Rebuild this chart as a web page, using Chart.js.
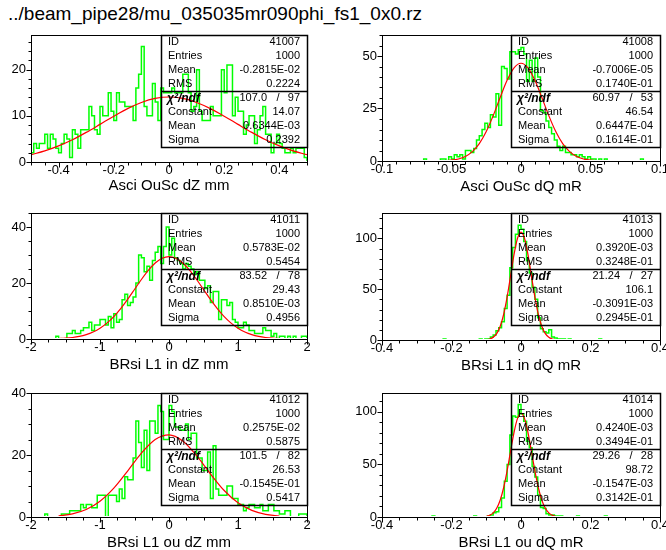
<!DOCTYPE html>
<html>
<head>
<meta charset="utf-8">
<title>beam_pipe28 residuals</title>
<script src="https://cdn.jsdelivr.net/npm/chart.js@4.4.1/dist/chart.umd.min.js"></script>
<style>
  html, body { margin: 0; padding: 0; background: #fff; }
  body { position: relative; width: 666px; height: 550px; overflow: hidden; }
  #pageTitle { position: absolute; left: 8px; top: 4px; font: 19px "Liberation Sans", Arial, sans-serif; line-height: 19px; color: #000; white-space: nowrap; }
  canvas { position: absolute; }
</style>
</head>
<body>
<div id="pageTitle"></div>
<script>
/* ============================
   PAW STYLE HISTOGRAM PAGE
============================ */

// ---------- DATA ----------
const pageTitle = "../beam_pipe28/mu_035035mr090phi_fs1_0x0.rz";

const histIds  = ["41007", "41008", "41011", "41013", "41012", "41014"];
const xTitles  = ["Asci OuSc dZ mm", "Asci OuSc dQ mR", "BRsi L1 in dZ mm", "BRsi L1 in dQ mR", "BRsi L1 ou dZ mm", "BRsi L1 ou dQ mR"];
const xRanges  = [[-0.5, 0.5], [-0.1, 0.1], [-2, 2], [-0.4, 0.4], [-2, 2], [-0.4, 0.4]];
const yMaxes   = [27.5, 60, 45, 125, 40, 118];
const xMajor   = [0.2, 0.05, 1, 0.2, 1, 0.2];
const xMinor   = [0.05, 0.01, 0.25, 0.05, 0.25, 0.05];
const yMajor   = [10, 25, 20, 50, 20, 50];
const yMinor   = [2, 5, 5, 10, 5, 10];

// stats box text
const statEntries = ["1000", "1000", "1000", "1000", "1000", "1000"];
const statMean    = ["-0.2815E-02", "-0.7006E-05", "0.5783E-02", "0.3920E-03", "0.2575E-02", "0.4240E-03"];
const statRms     = ["0.2224", "0.1740E-01", "0.5454", "0.3248E-01", "0.5875", "0.3494E-01"];
const chi2Vals    = ["107.0", "60.97", "83.52", "21.24", "101.5", "29.26"];
const ndfVals     = ["97", "53", "78", "27", "82", "28"];
const fitConst    = ["14.07", "46.54", "29.43", "106.1", "26.53", "98.72"];
const fitMean     = ["0.6344E-03", "0.6447E-04", "0.8510E-03", "-0.3091E-03", "-0.1545E-01", "-0.1547E-03"];
const fitSigma    = ["0.2392", "0.1614E-01", "0.4956", "0.2945E-01", "0.5417", "0.3142E-01"];

// bin contents, 100 bins each
const counts41007 = [
  2,4,3,4,4,6,3,6,5,3,  2,4,6,5,1,7,6,3,7,7,  7,12,10,7,6,12,10,10,15,11,
  9,15,13,13,12,12,12,9,16,19,  25,12,10,10,17,13,9,16,15,15,
  15,16,15,15,15,19,19,15,11,12,  20,11,9,9,9,12,10,10,10,20,
  15,21,21,10,14,11,11,6,8,10,  10,4,7,10,12,6,6,2,4,6,  4,3,2,2,3,2,3,3,3,1];
const counts41008 = [
  0,0,0,0,0,0,0,0,0,0,  0,0,0,0,0,1,0,0,0,0,  0,1,1,0,2,1,3,2,3,1,
  5,5,4,6,10,12,15,18,16,22,  21,32,17,45,44,39,52,52,51,53,
  54,51,38,48,38,49,40,24,23,19,  16,13,10,7,5,7,4,4,3,3,
  2,3,2,1,2,1,1,0,1,0,  1,0,0,0,0,0,0,0,0,0,  0,0,0,1,0,0,0,0,0,0];
const counts41011 = [
  0,0,0,0,0,0,0,0,0,1,  0,0,0,2,2,3,2,2,3,4,  4,6,3,5,5,7,7,5,8,4,
  9,6,7,14,16,12,13,15,20,30,  29,24,26,21,28,31,33,27,33,40,
  30,36,29,28,27,25,27,26,25,23,  24,21,21,18,19,13,17,17,7,14,
  14,12,13,7,6,4,4,6,5,3,  3,2,2,2,4,3,3,1,2,0,  1,1,0,1,0,1,0,0,1,1];
const counts41013 = [
  0,0,0,0,0,0,0,0,0,0,  0,0,0,0,0,0,0,0,0,0,  0,0,1,0,0,0,0,0,0,0,
  0,0,0,0,0,1,0,1,1,3,  5,9,12,18,31,44,71,91,104,113,
  109,97,78,66,52,40,22,11,8,7,  10,3,2,1,1,1,0,1,0,0,
  0,0,0,0,0,0,0,0,1,0,  0,0,0,0,0,0,0,0,0,0,  0,0,0,0,0,0,0,0,0,0];
const counts41012 = [
  0,0,0,0,0,1,0,0,0,0,  0,1,1,1,2,2,2,2,4,3,  4,4,3,3,7,7,7,0,7,7,
  7,5,9,6,13,12,12,19,31,24,  16,28,15,31,31,27,36,34,25,25,
  36,34,29,29,28,28,30,25,27,27,  19,19,15,15,21,6,23,9,7,7,
  7,10,10,6,6,4,4,2,3,4,  4,3,3,4,2,2,4,4,2,2,  1,1,2,2,0,0,0,1,1,1];
const counts41014 = [
  0,0,0,0,0,0,0,0,0,0,  0,0,0,0,0,0,0,0,1,0,  0,0,0,0,0,0,0,0,0,0,
  0,0,0,1,0,0,0,0,1,2,  4,5,9,18,34,50,78,96,95,107,
  98,91,72,66,48,38,21,9,8,3,  2,2,1,1,1,0,0,0,0,0,
  1,0,0,0,0,0,0,0,0,0,  1,0,0,0,0,0,0,0,0,0,  0,0,0,0,0,0,0,0,0,0];

// gaussian fit curve read at evenly spaced x over the fitted range
const fitRanges = [[-0.5, 0.5], [-0.06, 0.055], [-1.6, 1.6], [-0.1, 0.1], [-1.6, 1.6], [-0.1, 0.1]];
const fit41007 = [1.58,2.40,3.48,4.82,6.41,8.15,9.92,11.56,12.89,13.77,14.07,13.77,12.89,11.56,9.92,8.15,6.41,4.82,3.48,2.40,1.58];
const fit41008 = [0.046,0.140,0.383,0.954,2.16,4.44,8.27,14.02,21.60,30.22,38.41,44.36,46.54,44.36,38.41,30.22,21.60,14.02,8.27,4.44,2.16,0.954,0.383,0.140];
const fit41011 = [0.161,0.302,0.544,0.944,1.57,2.51,3.84,5.66,8.00,10.85,14.14,17.69,21.25,24.50,27.13,28.84,29.43,28.84,27.13,24.50,21.25,17.69,14.14,10.85,8.00,5.66,3.84,2.51,1.57,0.944,0.544,0.302,0.161];
const fit41013 = [0.332,0.994,2.65,6.29,13.32,25.10,42.19,63.15,84.24,100.16,106.1,100.16,84.24,63.15,42.19,25.10,13.32,6.29,2.65,0.994,0.332];
const fit41012 = [0.368,1.011,2.429,5.086,9.294,14.82,20.62,25.03,26.52,24.51,19.77,13.92,8.54,4.58,2.14,0.873,0.311];
const fit41014 = [0.624,1.63,3.86,8.25,15.94,27.83,43.90,62.58,80.62,93.84,98.72,93.84,80.62,62.58,43.90,27.83,15.94,8.25,3.86,1.63,0.624];

const histCounts = [counts41007, counts41008, counts41011, counts41013, counts41012, counts41014];
const fitValues  = [fit41007, fit41008, fit41011, fit41013, fit41012, fit41014];

// ---------- PAGE LAYOUT (canvas placement, plot area in page px) ----------
const panelBoxes = [
  { left: 0,   top: 25,  w: 340, h: 180, area: [31, 35, 307, 162],  boxLeft: 161, titlePad: 10 },
  { left: 340, top: 25,  w: 360, h: 180, area: [382, 35, 660, 161], boxLeft: 511, titlePad: 9 },
  { left: 0,   top: 195, w: 340, h: 185, area: [31, 213, 307, 339], boxLeft: 161, titlePad: 6 },
  { left: 340, top: 195, w: 360, h: 185, area: [382, 213, 660, 340], boxLeft: 511, titlePad: 5 },
  { left: 0,   top: 370, w: 340, h: 190, area: [31, 393, 307, 517], boxLeft: 161, titlePad: 8 },
  { left: 340, top: 370, w: 360, h: 190, area: [382, 393, 660, 517], boxLeft: 511, titlePad: 8 }
];

const FONT = '"Liberation Sans", Arial, sans-serif';
Chart.defaults.font.family = FONT;
Chart.defaults.color = "#000";

// ---------- FRAME, MINOR TICKS AND STATS BOX ----------
const pawDecor = {
  id: "pawDecor",
  afterDatasetsDraw(chart, args, o) {
    const { ctx, chartArea: a, scales: { x, y } } = chart;
    ctx.save();
    ctx.strokeStyle = "#000";
    ctx.lineWidth = 1;
    ctx.strokeRect(a.left + 0.5, a.top + 0.5, a.right - a.left, a.bottom - a.top);

    ctx.beginPath();
    const nx = Math.round((x.max - x.min) / o.xMinor);
    for (let i = 0; i <= nx; i++) {
      const v = x.min + i * o.xMinor;
      const px = Math.round(x.getPixelForValue(v)) + 0.5;
      const major = Math.abs(v / o.xMajor - Math.round(v / o.xMajor)) < 1e-6;
      ctx.moveTo(px, a.bottom + 0.5);
      ctx.lineTo(px, a.bottom + 0.5 + (major ? 5 : 3));
    }
    const ny = Math.floor(y.max / o.yMinor + 1e-6);
    for (let j = 0; j <= ny; j++) {
      const v = j * o.yMinor;
      const py = Math.round(y.getPixelForValue(v)) + 0.5;
      const major = v % o.yMajor === 0;
      ctx.moveTo(a.left + 0.5, py);
      ctx.lineTo(a.left + 0.5 - (major ? 5 : 3), py);
    }
    ctx.stroke();

    // stats box
    const bl = o.boxLeft, bt = a.top, br = a.right;
    ctx.lineWidth = 1.5;
    ctx.strokeRect(bl + 0.5, bt + 0.5, br - bl, 112);
    ctx.beginPath();
    ctx.moveTo(bl, bt + 56.5);
    ctx.lineTo(br + 1, bt + 56.5);
    ctx.stroke();

    ctx.fillStyle = "#000";
    ctx.textBaseline = "middle";
    o.rows.forEach((r, i) => {
      const cy = bt + 7 + i * 14;
      if (i === 4) {
        ctx.font = "bold italic 12px " + FONT;
        ctx.textAlign = "left";
        ctx.fillText(r[0], bl + 6, cy + 1);
        ctx.font = "11px " + FONT;
        ctx.textAlign = "right";
        ctx.fillText(r[1], br - 40, cy);
        ctx.textAlign = "center";
        ctx.fillText("/", br - 29, cy);
        ctx.textAlign = "right";
        ctx.fillText(r[2], br - 7, cy);
      } else {
        ctx.font = "11px " + FONT;
        ctx.textAlign = "left";
        ctx.fillText(r[0], bl + 7, cy);
        ctx.textAlign = "right";
        ctx.fillText(r[1], br - 7, cy);
      }
    });
    ctx.restore();
  }
};

// ---------- BUILD ONE PANEL ----------
function makePanel(k) {
  const P = panelBoxes[k];
  const [aL, aT, aR, aB] = P.area;
  const cv = document.createElement("canvas");
  cv.width = P.w;
  cv.height = P.h;
  cv.style.left = P.left + "px";
  cv.style.top = P.top + "px";
  document.body.appendChild(cv);

  const [lo, hi] = xRanges[k];
  const counts = histCounts[k];
  const bw = (hi - lo) / counts.length;
  const histPts = counts.map((c, i) => ({ x: lo + i * bw, y: c }));
  histPts.unshift({ x: lo, y: 0 });
  histPts.push({ x: hi, y: counts[counts.length - 1] });
  histPts.push({ x: hi, y: 0 });

  const fv = fitValues[k];
  const [f0, f1] = fitRanges[k];
  const fitPts = fv.map((v, i) => ({ x: f0 + i * (f1 - f0) / (fv.length - 1), y: v }));

  const clipArea = { left: 0, top: 0, right: 0, bottom: -1 };
  const fmt = v => String(+Number(v).toFixed(4));

  new Chart(cv, {
    type: "line",
    data: {
      datasets: [
        { data: fitPts, borderColor: "#ff0000", borderWidth: 1.2, pointRadius: 0,
          cubicInterpolationMode: "monotone", order: 0, clip: clipArea },
        { data: histPts, borderColor: "#00ff00", borderWidth: 1.5, pointRadius: 0,
          stepped: "before", order: 1, clip: clipArea }
      ]
    },
    options: {
      responsive: false,
      animation: false,
      devicePixelRatio: 1,
      events: [],
      layout: { padding: { left: 0, top: aT - P.top, right: P.left + P.w - aR, bottom: 0 } },
      plugins: {
        legend: { display: false },
        tooltip: { enabled: false },
        pawDecor: {
          xMinor: xMinor[k], xMajor: xMajor[k], yMinor: yMinor[k], yMajor: yMajor[k],
          boxLeft: P.boxLeft - P.left,
          rows: [
            ["ID", histIds[k]],
            ["Entries", statEntries[k]],
            ["Mean", statMean[k]],
            ["RMS", statRms[k]],
            ["\u03C7\u00B2/ndf", chi2Vals[k], ndfVals[k]],
            ["Constant", fitConst[k]],
            ["Mean", fitMean[k]],
            ["Sigma", fitSigma[k]]
          ]
        }
      },
      scales: {
        x: {
          type: "linear", min: lo, max: hi,
          afterBuildTicks: s => {
            const st = xMajor[k];
            const first = Math.ceil(lo / st - 1e-9), last = Math.floor(hi / st + 1e-9);
            const t = [];
            for (let i = first; i <= last; i++) t.push({ value: +(i * st).toFixed(6) });
            s.ticks = t;
          },
          afterFit: s => { s.height = P.top + P.h - aB; s.paddingLeft = 0; s.paddingRight = 0; },
          grid: { display: false, drawTicks: false },
          border: { display: false },
          ticks: { autoSkip: false, maxRotation: 0, padding: 1, font: { size: 13 }, callback: fmt },
          title: { display: true, text: xTitles[k], font: { size: 15 },
                   padding: { top: 0, bottom: P.titlePad } }
        },
        y: {
          type: "linear", min: 0, max: yMaxes[k],
          afterBuildTicks: s => {
            const st = yMajor[k];
            const t = [];
            for (let v = 0; v <= yMaxes[k] + 1e-9; v += st) t.push({ value: v });
            s.ticks = t;
          },
          afterFit: s => { s.width = aL - P.left; s.paddingTop = 0; s.paddingBottom = 0; },
          grid: { display: false, drawTicks: false },
          border: { display: false },
          ticks: { padding: 5, font: { size: 13 }, callback: fmt }
        }
      }
    },
    plugins: [pawDecor]
  });
}

// ---------- MAIN INIT ----------
document.getElementById("pageTitle").textContent = pageTitle;
for (let k = 0; k < 6; k++) makePanel(k);
</script>
</body>
</html>
